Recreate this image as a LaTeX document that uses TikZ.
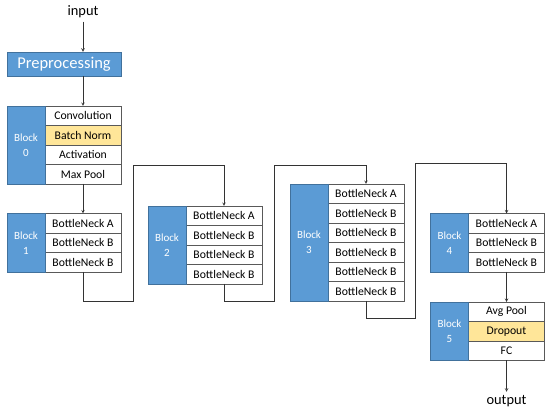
\documentclass[tikz,border=0pt]{standalone}
\usepackage{fontspec}
\setmainfont{Carlito}
\usetikzlibrary{positioning}
\definecolor{blockblue}{HTML}{5B9BD5}
\definecolor{blockedge}{HTML}{41719C}
\definecolor{normyellow}{HTML}{FFE699}
\definecolor{edgegray}{HTML}{595959}
\tikzset{
  cell/.style={draw=edgegray, fill=white, minimum width=76pt, minimum height=19.5pt,
    inner sep=0pt, outer sep=0pt, font=\fontsize{11.7}{13}\selectfont},
  yelcell/.style={cell, fill=normyellow},
  blockbox/.style={draw=blockedge, fill=blockblue, text=white, minimum width=38pt,
    inner sep=0pt, outer sep=0pt, align=center, font=\fontsize{11}{15}\selectfont},
  flow/.style={draw=black!80, line width=0.6pt},
}
\begin{document}
\begin{tikzpicture}[x=1pt, y=-1pt]
  \useasboundingbox (0,0) rectangle (550,411);

  % input and preprocessing
  \node[font=\fontsize{14.4}{16}\selectfont] (in) at (83,12) {input};
  \node[draw=blockedge, fill=blockblue, text=white, minimum width=114pt, minimum height=24pt,
    inner sep=0pt, font=\fontsize{16.5}{18}\selectfont] (pre) at (64,64) {Preprocessing};

  % Block 0
  \node[cell, anchor=north west] (b0c1) at (45,106) {Convolution};
  \node[yelcell, below=0pt of b0c1] (b0c2) {Batch Norm};
  \node[cell, below=0pt of b0c2] (b0c3) {Activation};
  \node[cell, below=0pt of b0c3] (b0c4) {Max Pool};
  \node[blockbox, minimum height=78pt, anchor=north east] (b0) at (b0c1.north west) {Block\\0};

  % Block 1
  \node[cell, anchor=north west] (b1c1) at (45,213.5) {BottleNeck A};
  \node[cell, below=0pt of b1c1] (b1c2) {BottleNeck B};
  \node[cell, below=0pt of b1c2] (b1c3) {BottleNeck B};
  \node[blockbox, minimum height=58.5pt, anchor=north east] (b1) at (b1c1.north west) {Block\\1};

  % Block 2
  \node[cell, anchor=north west] (b2c1) at (186,206) {BottleNeck A};
  \node[cell, below=0pt of b2c1] (b2c2) {BottleNeck B};
  \node[cell, below=0pt of b2c2] (b2c3) {BottleNeck B};
  \node[cell, below=0pt of b2c3] (b2c4) {BottleNeck B};
  \node[blockbox, minimum height=78pt, anchor=north east] (b2) at (b2c1.north west) {Block\\2};

  % Block 3
  \node[cell, anchor=north west] (b3c1) at (328,184) {BottleNeck A};
  \node[cell, below=0pt of b3c1] (b3c2) {BottleNeck B};
  \node[cell, below=0pt of b3c2] (b3c3) {BottleNeck B};
  \node[cell, below=0pt of b3c3] (b3c4) {BottleNeck B};
  \node[cell, below=0pt of b3c4] (b3c5) {BottleNeck B};
  \node[cell, below=0pt of b3c5] (b3c6) {BottleNeck B};
  \node[blockbox, minimum height=117pt, anchor=north east] (b3) at (b3c1.north west) {Block\\3};

  % Block 4
  \node[cell, anchor=north west] (b4c1) at (468.5,213.5) {BottleNeck A};
  \node[cell, below=0pt of b4c1] (b4c2) {BottleNeck B};
  \node[cell, below=0pt of b4c2] (b4c3) {BottleNeck B};
  \node[blockbox, minimum height=58.5pt, anchor=north east] (b4) at (b4c1.north west) {Block\\4};

  % Block 5
  \node[cell, anchor=north west] (b5c1) at (468.5,302) {Avg Pool};
  \node[yelcell, below=0pt of b5c1] (b5c2) {Dropout};
  \node[cell, below=0pt of b5c2] (b5c3) {FC};
  \node[blockbox, minimum height=58.5pt, anchor=north east] (b5) at (b5c1.north west) {Block\\5};

  \node[font=\fontsize{14.4}{16}\selectfont] (out) at (506.5,401) {output};

  % turning points of the connectors
  \coordinate (j1) at (133,301);
  \coordinate (k1) at (133,165);
  \coordinate (j2) at (274,301);
  \coordinate (k2) at (274,165);
  \coordinate (j3) at (415,318);
  \coordinate (k3) at (415,163);

  % connectors
  \draw[flow, -stealth] (in.south) -- (in.south |- pre.north);
  \draw[flow, -stealth] (b0c1.north |- pre.south) -- (b0c1.north);
  \draw[flow, -stealth] (b0c4) -- (b1c1);
  \draw[flow, -stealth] (b1c3.south) |- (j1) -- (k1) -| (b2c1.north);
  \draw[flow, -stealth] (b2c4.south) |- (j2) -- (k2) -| (b3c1.north);
  \draw[flow, -stealth] (b3c6.south) |- (j3) -- (k3) -| (b4c1.north);
  \draw[flow, -stealth] (b4c3) -- (b5c1);
  \draw[flow, -stealth] (b5c3) -- (out);
\end{tikzpicture}
\end{document}
